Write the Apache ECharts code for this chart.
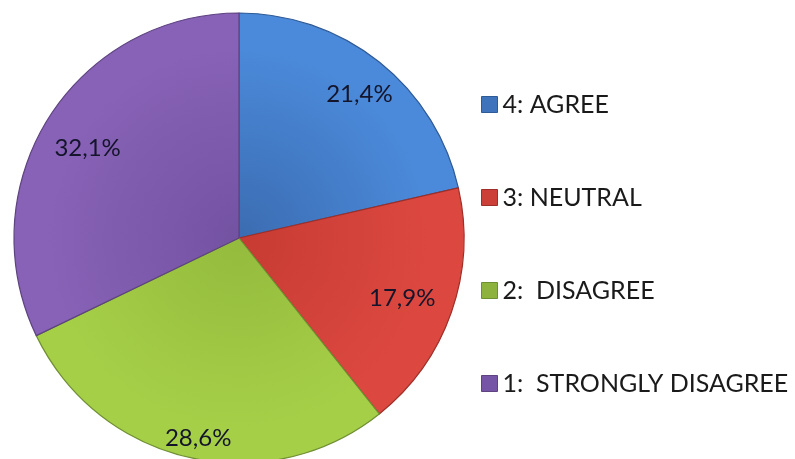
<!DOCTYPE html>
<html>
<head>
<meta charset="utf-8">
<script src="https://cdn.jsdelivr.net/npm/echarts@6/dist/echarts.min.js"></script>
<style>
html,body{margin:0;padding:0;background:#fff;}
#chart{width:795px;height:459px;}
</style>
</head>
<body>
<div id="chart"></div>
<script>
var categories = ['4: AGREE', '3: NEUTRAL', '2:  DISAGREE', '1:  STRONGLY DISAGREE'];
var counts = [6, 5, 8, 9];
var innerColors = ['#3B6CB1', '#C63B33', '#94BB3D', '#7452A2'];
var outerColors = ['#4B8ADA', '#DC4840', '#A6CF48', '#8762B6'];
var legendColors = ['#3F74BD', '#CC3F38', '#8DB33E', '#7655A6'];
var borders = ['#2E5A96', '#9E2E28', '#6F8F33', '#5E4380'];

var CX = 239, CY = 238, R = 225;
var total = counts.reduce(function (a, b) { return a + b; }, 0);
function pct(v) { return (v / total * 100).toFixed(1).replace('.', ',') + '%'; }

function grad(i) {
  return {
    type: 'radial', x: CX, y: CY, r: R, global: true,
    colorStops: [
      { offset: 0, color: innerColors[i] },
      { offset: 0.85, color: outerColors[i] },
      { offset: 1, color: outerColors[i] }
    ]
  };
}

var labelOffsets = [[6, 0], [-10, 0], [0, 21], [4, 8]];

var mainData = categories.map(function (c, i) {
  return { name: c, value: counts[i], itemStyle: { color: grad(i), borderColor: borders[i] } };
});
var labelData = categories.map(function (c, i) {
  return { name: c, value: counts[i], label: { offset: labelOffsets[i] } };
});

var chart = echarts.init(document.getElementById('chart'), null, { renderer: 'canvas' });
chart.setOption({
  animation: false,
  backgroundColor: '#ffffff',
  legend: {
    orient: 'vertical',
    left: 476,
    top: 87,
    itemWidth: 16,
    itemHeight: 16,
    itemGap: 68,
    icon: 'rect',
    data: categories.map(function (c, i) {
      return { name: c, itemStyle: { color: legendColors[i], borderColor: borders[i], borderWidth: 1 } };
    }),
    textStyle: { fontFamily: 'Lato', fontSize: 25, lineHeight: 25, color: '#1a1a1a' }
  },
  series: [
    {
      type: 'pie',
      center: [CX, CY],
      radius: [0, R],
      startAngle: 90,
      clockwise: true,
      silent: true,
      label: { show: false },
      labelLine: { show: false },
      itemStyle: { borderWidth: 1.2 },
      data: mainData
    },
    {
      type: 'pie',
      center: [CX, CY],
      radius: [136, R],
      startAngle: 90,
      clockwise: true,
      silent: true,
      itemStyle: { color: 'rgba(0,0,0,0)', borderWidth: 0 },
      label: {
        show: true,
        position: 'inside',
        fontFamily: 'Lato',
        fontSize: 24,
        color: '#14142a',
        formatter: function (p) { return pct(p.value); }
      },
      labelLine: { show: false },
      data: labelData
    }
  ]
});
</script>
</body>
</html>
